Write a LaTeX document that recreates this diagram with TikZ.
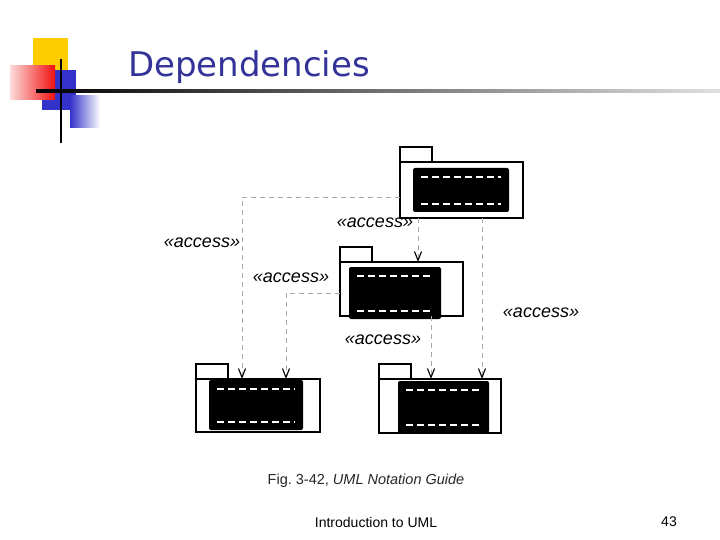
\documentclass[tikz,border=0pt]{standalone}
\usepackage{fontspec}
\setmainfont{Liberation Sans}
\newfontfamily\titlefont{DejaVu Sans}
\usetikzlibrary{arrows.meta, positioning, calc}
\definecolor{TitleBlue}  {HTML}{333399}
\definecolor{DashGray}   {HTML}{A8A8A8}
\definecolor{DecoYellow} {HTML}{FFCC00}
\definecolor{DecoRed}    {HTML}{F01010}
\definecolor{DecoBlue}   {HTML}{3333CC}

\begin{document}
\begin{tikzpicture}[x=1pt, y=-1pt,
  every node/.style={inner sep=0pt, outer sep=0pt},
  pkg/.style={draw, line width=1.2pt, fill=white, anchor=north west},
  pbody/.style={pkg, minimum width=123pt, minimum height=55pt},
  ptab/.style={pkg, minimum width=32pt, minimum height=15pt, anchor=south west},
  blob/.style={fill=black, rounded corners=2pt, anchor=north west},
  dep/.style={DashGray, line width=0.8pt, dash pattern=on 5pt off 4pt,
              -{Straight Barb[length=9pt, width=7pt, color=black, line width=1.1pt]}},
  lbl/.style={font=\fontsize{18}{20}\selectfont\itshape},
]
  \useasboundingbox (0,0) rectangle (720,540);

  % title decoration
  \fill[DecoYellow] (33,38) rectangle (68,73);
  \fill[DecoBlue] (42,70) rectangle (76,110);
  \shade[left color=DecoBlue, right color=white] (70,96) rectangle (100,128);
  \shade[left color=DecoRed!15, right color=DecoRed] (10,66) rectangle (55,100);
  \shade[left color=black, right color=black!12] (36,90) rectangle (720,92.5);
  \fill[black] (59.8,59) rectangle (62.3,143);
  \node[anchor=base west, font=\titlefont\fontsize{34}{40}\selectfont,
        text=TitleBlue] (title) at (128,77) {Dependencies};

  % packages
  \node[pbody, minimum height=56pt] (p1) at (400,162) {};
  \node[ptab] (t1) at (p1.north west) {};
  \node[pbody, minimum height=54pt] (p2) at (340,262) {};
  \node[ptab] (t2) at (p2.north west) {};
  \node[pbody, minimum width=124pt, minimum height=53pt] (p3) at (196,379) {};
  \node[ptab] (t3) at (p3.north west) {};
  \node[pbody, minimum width=122pt, minimum height=54pt] (p4) at (379,379) {};
  \node[ptab] (t4) at (p4.north west) {};

  \node[blob, minimum width=96pt, minimum height=44pt] (b1) at (413,168) {};
  \node[blob, minimum width=92pt, minimum height=52pt] (b2) at (349,267) {};
  \node[blob, minimum width=94pt, minimum height=50pt] (b3) at (209,380) {};
  \node[blob, minimum width=91pt, minimum height=52pt] (b4) at (398,381) {};
  \foreach \b in {b1,b2,b3,b4} {
    \draw[white, line width=1.3pt, dash pattern=on 7pt off 4pt]
      ([shift={(8pt,-9pt)}]\b.north west) -- ([shift={(-8pt,-9pt)}]\b.north east);
    \draw[white, line width=1.3pt, dash pattern=on 7pt off 4pt]
      ([shift={(8pt,8pt)}]\b.south west) -- ([shift={(-8pt,8pt)}]\b.south east);
  }

  % access dependencies
  \draw[dep] ([yshift=-7pt]p1.west) -| ([xshift=46pt]p3.north west);
  \draw[dep] ([xshift=-43.5pt]p1.south) coordinate (a2) -- (a2 |- p2.north);
  \draw[dep] ([yshift=-4pt]p2.west) -| ([xshift=90pt]p3.north west);
  \draw[dep] ([xshift=29.5pt]p2.south) coordinate (a4) -- (a4 |- p4.north);
  \draw[dep] ([xshift=20.5pt]p1.south) coordinate (a5) -- (a5 |- p4.north);

  \node[lbl] (l1) at (202,243) {«access»};
  \node[lbl] (l2) at (375,223) {«access»};
  \node[lbl] (l3) at (291,278) {«access»};
  \node[lbl] (l4) at (383,340) {«access»};
  \node[lbl] (l5) at (541,313) {«access»};

  % captions
  \node[font=\fontsize{14.5}{16}\selectfont, text=black!85] (cap) at (366,481)
    {Fig.\ 3-42, \textit{UML Notation Guide}};
  \node[font=\fontsize{14}{16}\selectfont] (foot) at (376,522) {Introduction to UML};
  \node[font=\fontsize{14}{16}\selectfont] (num) at (669,522) {43};
\end{tikzpicture}
\end{document}
